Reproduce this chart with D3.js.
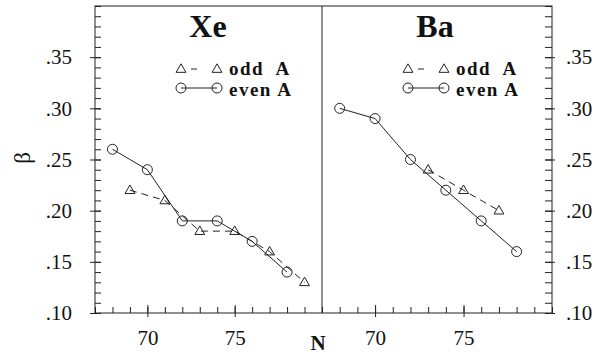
<!DOCTYPE html>
<html>
<head>
<meta charset="utf-8">
<script src="https://cdn.jsdelivr.net/npm/d3@7"></script>
<style>
  body { margin: 0; background: #fff; }
  svg { display: block; }
</style>
</head>
<body>
<script>
// 数据：N 与 β
var xeEvenN = [68, 70, 72, 74, 76, 78];
var xeEvenBeta = [0.26, 0.24, 0.19, 0.19, 0.17, 0.14];
var xeOddN = [69, 71, 73, 75, 77, 79];
var xeOddBeta = [0.22, 0.21, 0.18, 0.18, 0.16, 0.13];
var baEvenN = [68, 70, 72, 74, 76, 78];
var baEvenBeta = [0.30, 0.29, 0.25, 0.22, 0.19, 0.16];
var baOddN = [73, 75, 77];
var baOddBeta = [0.24, 0.22, 0.20];

var yMajor = [0.10, 0.15, 0.20, 0.25, 0.30, 0.35];
var yLabels = [".10", ".15", ".20", ".25", ".30", ".35"];
var xMajor = [70, 75];
var xLabels = ["70", "75"];
var legendNames = ["odd  A", "even A"];

var W = 611, H = 356;
var ink = "#222";
var serif = "Liberation Serif";

var svg = d3.select("body").append("svg").attr("width", W).attr("height", H);

var top0 = 6, bottom0 = 313;
var left0 = 95, mid0 = 322, right0 = 552;

var y = d3.scaleLinear().domain([0.10, 0.40]).range([bottom0, top0]);
var xL = d3.scaleLinear().domain([67, 80]).range([left0, mid0]);
var xR = d3.scaleLinear().domain([67, 80]).range([mid0, right0]);

var yMinor = d3.range(10, 41).map(function (v) { return v / 100; });
var xMinor = d3.range(67, 81);

// 边框
svg.append("rect").attr("x", left0).attr("y", top0)
    .attr("width", right0 - left0).attr("height", bottom0 - top0)
    .attr("fill", "none").attr("stroke", ink).attr("stroke-width", 1);
svg.append("line").attr("x1", mid0).attr("x2", mid0).attr("y1", top0).attr("y2", bottom0)
    .attr("stroke", ink).attr("stroke-width", 1);

function styleAxis(g, size) {
    g.attr("font-family", serif).attr("font-size", size);
    g.select(".domain").remove();
    g.selectAll("line").attr("stroke", ink);
    g.selectAll("text").attr("font-family", serif).attr("font-size", size).attr("fill", "#111");
}

// 左侧 y 轴
var gl1 = svg.append("g").attr("transform", "translate(" + left0 + ",0)")
    .call(d3.axisLeft(y).tickValues(yMinor).tickSize(-6).tickFormat(""));
styleAxis(gl1, 21);
var gl2 = svg.append("g").attr("transform", "translate(" + left0 + ",0)")
    .call(d3.axisLeft(y).tickValues(yMajor).tickSize(5).tickPadding(18)
        .tickFormat(function (d, i) { return yLabels[i]; }));
styleAxis(gl2, 21);
gl2.selectAll(".tick line").attr("x1", 6);

// 右侧 y 轴
var gr1 = svg.append("g").attr("transform", "translate(" + right0 + ",0)")
    .call(d3.axisRight(y).tickValues(yMinor).tickSize(-7).tickFormat(""));
styleAxis(gr1, 21);
var gr2 = svg.append("g").attr("transform", "translate(" + right0 + ",0)")
    .call(d3.axisRight(y).tickValues(yMajor).tickSize(3).tickPadding(11)
        .tickFormat(function (d, i) { return yLabels[i]; }));
styleAxis(gr2, 21);
gr2.selectAll(".tick line").attr("x1", -7);

// x 轴
[xL, xR].forEach(function (x) {
    var g1 = svg.append("g").attr("transform", "translate(0," + bottom0 + ")")
        .call(d3.axisBottom(x).tickValues(xMinor).tickSize(-6).tickFormat(""));
    styleAxis(g1, 21);
    var g2 = svg.append("g").attr("transform", "translate(0," + bottom0 + ")")
        .call(d3.axisBottom(x).tickValues(xMajor).tickSize(4).tickPadding(13)
            .tickFormat(function (d, i) { return xLabels[i]; }));
    styleAxis(g2, 21);
    g2.selectAll(".tick line").attr("y1", -8);
});

// 轴标题
svg.append("text")
    .attr("transform", "translate(30,158) rotate(-90)")
    .attr("text-anchor", "middle")
    .attr("font-family", serif).attr("font-size", 23)
    .attr("fill", "#111")
    .text("β");
svg.append("text")
    .attr("x", 318).attr("y", 350)
    .attr("text-anchor", "middle")
    .attr("font-family", serif).attr("font-size", 21).attr("font-weight", "bold")
    .attr("fill", "#111")
    .text("N");

var tri = d3.symbol().type(d3.symbolTriangle).size(42);

function drawSeries(x, ns, vals, dashed, isTri) {
    var pts = ns.map(function (n, i) { return [x(n), y(vals[i])]; });
    svg.append("path")
        .attr("d", d3.line()(pts))
        .attr("fill", "none").attr("stroke", ink).attr("stroke-width", 1)
        .attr("stroke-dasharray", dashed ? "7,5" : null);
    drawMarkers(pts, isTri);
}

function drawMarkers(pts, isTri) {
    pts.forEach(function (p) {
        if (isTri) {
            svg.append("path").attr("d", tri)
                .attr("transform", "translate(" + p[0] + "," + (p[1] + 0.5) + ")")
                .attr("fill", "none").attr("stroke", ink).attr("stroke-width", 1);
        } else {
            svg.append("circle").attr("cx", p[0]).attr("cy", p[1]).attr("r", 5)
                .attr("fill", "none").attr("stroke", ink).attr("stroke-width", 1);
        }
    });
}

drawSeries(xL, xeOddN, xeOddBeta, true, true);
drawSeries(xL, xeEvenN, xeEvenBeta, false, false);
drawSeries(xR, baOddN, baOddBeta, true, true);
drawSeries(xR, baEvenN, baEvenBeta, false, false);

// 标题与图例
function panelLabel(px, title) {
    svg.append("text")
        .attr("x", px + 113).attr("y", 37)
        .attr("text-anchor", "middle")
        .attr("font-family", serif).attr("font-size", 32).attr("font-weight", "bold")
        .attr("fill", "#111")
        .text(title);
    var rows = [{ yy: 69, ty: 75, dashed: true, tri: true }, { yy: 88, ty: 96, dashed: false, tri: false }];
    rows.forEach(function (r, i) {
        var pts = [[px + 86, r.yy], [px + 122, r.yy]];
        svg.append("path").attr("d", d3.line()(pts))
            .attr("fill", "none").attr("stroke", ink).attr("stroke-width", 1)
            .attr("stroke-dasharray", r.dashed ? "0,10,6,20" : null);
        drawMarkers(pts, r.tri);
        svg.append("text")
            .attr("x", px + 134).attr("y", r.ty)
            .attr("font-family", serif).attr("font-size", 19).attr("font-weight", "bold")
            .attr("letter-spacing", 1.5)
            .style("white-space", "pre")
            .attr("fill", "#111")
            .text(legendNames[i]);
    });
}
panelLabel(left0, "Xe");
panelLabel(mid0, "Ba");
</script>
</body>
</html>
